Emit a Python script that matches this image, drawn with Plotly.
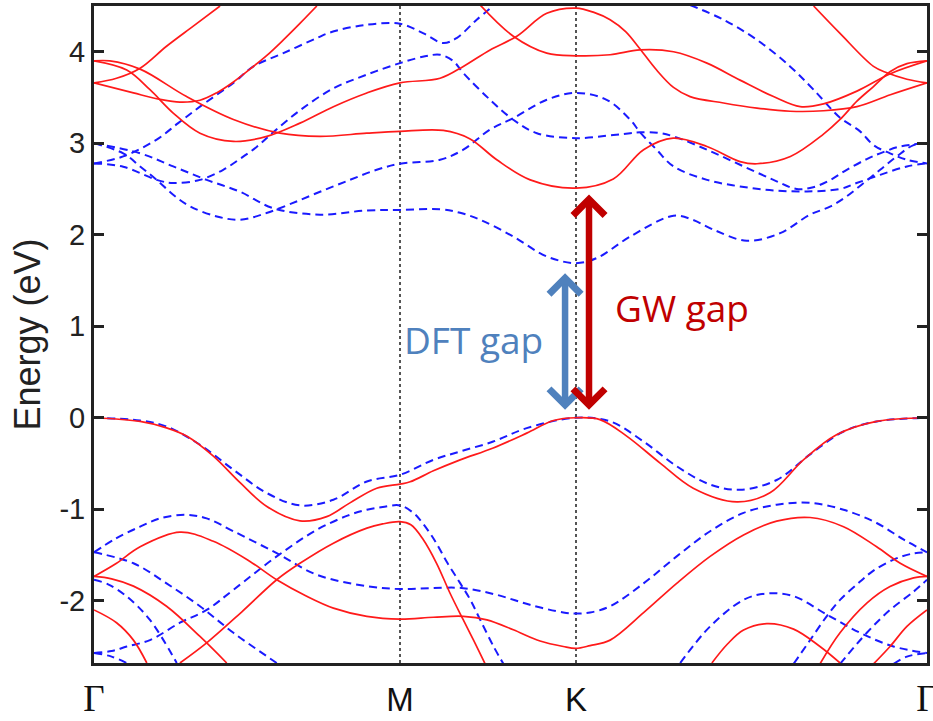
import plotly.graph_objects as go

# ---- k-path (high-symmetry points) and tick labels ----
k_ticks = [0.0, 0.869, 1.369, 2.366]
k_labels = ["Γ", "M", "K", "Γ"]
e_ticks = [-2, -1, 0, 1, 2, 3, 4]
e_labels = ["-2", "-1", "0", "1", "2", "3", "4"]
e_range = [-2.68, 4.50]

# ---- GW bands (red, solid) ----
gw_v1_k = [0, 0.131, 0.206, 0.263, 0.339, 0.415, 0.491, 0.585, 0.661, 0.727, 0.803, 0.869, 0.898, 0.964, 1.040, 1.134, 1.229, 1.305, 1.369, 1.437, 1.513, 1.608, 1.702, 1.826, 1.920, 2.015, 2.109, 2.223, 2.366]
gw_v1_e = [0, -0.04, -0.11, -0.20, -0.42, -0.71, -0.97, -1.126, -1.08, -0.93, -0.77, -0.725, -0.70, -0.58, -0.46, -0.33, -0.168, -0.03, 0, -0.02, -0.20, -0.495, -0.77, -0.92, -0.82, -0.46, -0.186, -0.04, 0]
gw_v2_k = [0, 0.064, 0.131, 0.244, 0.339, 0.443, 0.519, 0.604, 0.680, 0.775, 0.869, 0.964, 1.049, 1.116, 1.191, 1.267, 1.333, 1.369, 1.409, 1.466, 1.561, 1.655, 1.750, 1.845, 1.939, 2.034, 2.129, 2.223, 2.290, 2.366]
gw_v2_e = [-1.734, -1.59, -1.41, -1.25, -1.35, -1.57, -1.77, -1.95, -2.08, -2.17, -2.20, -2.18, -2.17, -2.208, -2.317, -2.44, -2.50, -2.52, -2.49, -2.43, -2.13, -1.81, -1.515, -1.28, -1.13, -1.09, -1.19, -1.41, -1.59, -1.734]
gw_v3_k = [0, 0.05, 0.112, 0.206, 0.301, 0.377]
gw_v3_e = [-1.734, -1.76, -1.84, -2.06, -2.39, -2.68]
gw_v4_k = [0, 0.064, 0.112, 0.150]
gw_v4_e = [-2.10, -2.24, -2.43, -2.68]
gw_v5_k = [0.244, 0.32, 0.42, 0.519, 0.585, 0.68, 0.775, 0.82, 0.869, 0.90, 0.935, 0.973, 1.011, 1.049, 1.078, 1.111]
gw_v5_e = [-2.68, -2.46, -2.12, -1.77, -1.59, -1.37, -1.206, -1.16, -1.135, -1.17, -1.33, -1.59, -1.915, -2.21, -2.43, -2.69]
gw_r1_k = [1.755, 1.80, 1.845, 1.911, 1.987, 2.062, 2.119]
gw_r1_e = [-2.68, -2.47, -2.32, -2.25, -2.31, -2.50, -2.68]
gw_r2_k = [2.062, 2.119, 2.195, 2.261, 2.328, 2.366]
gw_r2_e = [-2.69, -2.35, -2.026, -1.845, -1.75, -1.734]
gw_r3_k = [2.214, 2.261, 2.309, 2.366]
gw_r3_e = [-2.69, -2.50, -2.28, -2.10]
gw_c1_k = [0, 0.045, 0.131, 0.263, 0.396, 0.528, 0.642, 0.775, 0.869, 0.992, 1.067, 1.144, 1.239, 1.369, 1.475, 1.561, 1.645, 1.741, 1.835, 1.883, 1.978, 2.072, 2.119, 2.167, 2.214, 2.262, 2.309, 2.366]
gw_c1_e = [3.90, 3.90, 3.81, 3.51, 3.26, 3.11, 3.075, 3.11, 3.13, 3.14, 3.05, 2.82, 2.60, 2.51, 2.61, 2.93, 3.056, 2.965, 2.80, 2.776, 2.856, 3.10, 3.26, 3.46, 3.62, 3.785, 3.87, 3.90]
gw_c2_k = [0, 0.093, 0.159, 0.225, 0.301, 0.396, 0.491, 0.585, 0.68, 0.775, 0.869, 0.983, 1.049, 1.125, 1.201, 1.286, 1.369, 1.42, 1.466, 1.51, 1.551, 1.598, 1.646, 1.693, 1.788, 1.883, 1.977, 2.072, 2.167, 2.262, 2.366]
gw_c2_e = [3.90, 3.80, 3.585, 3.33, 3.11, 3.02, 3.075, 3.22, 3.40, 3.55, 3.66, 3.71, 3.84, 4.02, 4.17, 4.42, 4.477, 4.43, 4.35, 4.22, 4.03, 3.80, 3.61, 3.51, 3.44, 3.384, 3.35, 3.355, 3.40, 3.53, 3.66]
gw_c3_k = [1.097, 1.191, 1.286, 1.369, 1.466, 1.551, 1.646, 1.741, 1.835, 1.930, 2.006, 2.072, 2.167, 2.262, 2.366]
gw_c3_e = [4.51, 4.17, 3.985, 3.956, 3.967, 4.02, 4.00, 3.876, 3.69, 3.51, 3.40, 3.43, 3.57, 3.76, 3.90]
gw_c4_k = [2.044, 2.119, 2.214, 2.252, 2.309, 2.366]
gw_c4_e = [4.50, 4.20, 3.84, 3.77, 3.70, 3.66]
gw_c5_k = [0, 0.064, 0.131, 0.206, 0.282, 0.358]
gw_c5_e = [3.66, 3.71, 3.82, 4.06, 4.28, 4.50]
gw_c6_k = [0, 0.112, 0.1875, 0.244, 0.301, 0.348, 0.396, 0.443, 0.491, 0.538, 0.585, 0.633]
gw_c6_e = [3.66, 3.55, 3.48, 3.45, 3.47, 3.55, 3.67, 3.81, 3.96, 4.13, 4.31, 4.50]

# ---- DFT bands (blue, dashed) ----
dft_v1_k = [0, 0.131, 0.206, 0.301, 0.396, 0.491, 0.585, 0.680, 0.775, 0.869, 0.964, 1.040, 1.134, 1.229, 1.369, 1.466, 1.561, 1.655, 1.750, 1.835, 1.939, 2.034, 2.129, 2.223, 2.366]
dft_v1_e = [0, -0.03, -0.095, -0.295, -0.568, -0.823, -0.958, -0.896, -0.696, -0.623, -0.46, -0.368, -0.26, -0.113, 0, -0.04, -0.26, -0.53, -0.73, -0.787, -0.68, -0.40, -0.15, -0.04, 0]
dft_v2_k = [0, 0.064, 0.131, 0.1875, 0.259, 0.32, 0.396, 0.519, 0.633, 0.775, 0.869, 0.954, 1.049, 1.144, 1.238, 1.333, 1.369, 1.409, 1.466, 1.561, 1.655, 1.750, 1.845, 1.939, 2.034, 2.129, 2.223, 2.299, 2.366]
dft_v2_e = [-1.47, -1.315, -1.19, -1.10, -1.06, -1.10, -1.24, -1.48, -1.716, -1.84, -1.872, -1.862, -1.862, -1.935, -2.044, -2.128, -2.14, -2.128, -2.06, -1.81, -1.515, -1.24, -1.04, -0.95, -0.93, -1.005, -1.15, -1.33, -1.47]
dft_v3_k = [0, 0.112, 0.206, 0.301, 0.396, 0.519]
dft_v3_e = [-1.47, -1.59, -1.81, -2.06, -2.35, -2.68]
dft_v4_k = [0, 0.04, 0.093, 0.159, 0.235]
dft_v4_e = [-1.77, -1.82, -1.953, -2.21, -2.68]
dft_v5_k = [0, 0.05, 0.093]
dft_v5_e = [-2.57, -2.61, -2.68]
dft_v6_k = [0, 0.05, 0.093, 0.159, 0.244, 0.32, 0.396, 0.519, 0.633, 0.72, 0.775, 0.82, 0.869, 0.907, 0.926, 0.966, 1.004, 1.04, 1.069, 1.097, 1.135, 1.163]
dft_v6_e = [-2.57, -2.55, -2.50, -2.43, -2.24, -2.10, -1.88, -1.515, -1.224, -1.07, -1.005, -0.975, -0.958, -1.04, -1.115, -1.33, -1.588, -1.807, -1.99, -2.208, -2.50, -2.69]
dft_r1_k = [1.665, 1.750, 1.845, 1.911, 1.987, 2.081, 2.176, 2.271, 2.366]
dft_r1_e = [-2.68, -2.28, -1.99, -1.92, -1.95, -2.15, -2.35, -2.50, -2.57]
dft_r2_k = [1.987, 2.034, 2.081, 2.119, 2.176, 2.214, 2.271, 2.318, 2.366]
dft_r2_e = [-2.69, -2.43, -2.17, -1.99, -1.79, -1.67, -1.55, -1.49, -1.47]
dft_r3_k = [2.119, 2.195, 2.261, 2.328, 2.366]
dft_r3_e = [-2.69, -2.35, -2.10, -1.90, -1.77]
dft_r4_k = [2.271, 2.309, 2.366]
dft_r4_e = [-2.69, -2.61, -2.57]
dft_c1_k = [0, 0.083, 0.131, 0.178, 0.225, 0.273, 0.349, 0.415, 0.49, 0.56, 0.642, 0.727, 0.803, 0.869, 0.983, 1.049, 1.125, 1.191, 1.286, 1.369, 1.456, 1.523, 1.551, 1.598, 1.646, 1.741, 1.835, 1.93, 2.025, 2.119, 2.166, 2.233, 2.309, 2.366]
dft_c1_e = [3.00, 2.89, 2.747, 2.60, 2.437, 2.31, 2.20, 2.164, 2.237, 2.34, 2.47, 2.60, 2.71, 2.776, 2.82, 2.93, 3.15, 3.275, 3.475, 3.55, 3.475, 3.257, 3.12, 2.93, 2.747, 2.60, 2.528, 2.485, 2.474, 2.50, 2.565, 2.655, 2.747, 2.78]
dft_c2_k = [0, 0.131, 0.225, 0.32, 0.415, 0.509, 0.642, 0.775, 0.869, 0.983, 1.04, 1.097, 1.191, 1.286, 1.369, 1.428, 1.523, 1.646, 1.70, 1.76, 1.854, 1.949, 2.034, 2.092, 2.138, 2.186, 2.233, 2.28, 2.328, 2.366]
dft_c2_e = [3.00, 2.89, 2.747, 2.60, 2.47, 2.29, 2.22, 2.266, 2.27, 2.28, 2.24, 2.164, 1.98, 1.763, 1.69, 1.745, 1.98, 2.208, 2.164, 2.055, 1.934, 2.018, 2.22, 2.31, 2.42, 2.565, 2.71, 2.856, 2.98, 3.00]
dft_c3_k = [0, 0.083, 0.178, 0.239, 0.301, 0.396, 0.453, 0.538, 0.633, 0.67, 0.765, 0.869, 0.936, 0.992, 1.03, 1.087, 1.134]
dft_c3_e = [2.78, 2.856, 3.04, 3.22, 3.40, 3.66, 3.84, 3.985, 4.15, 4.21, 4.29, 4.306, 4.20, 4.095, 4.15, 4.35, 4.50]
dft_c4_k = [1.693, 1.788, 1.883, 1.977, 2.044, 2.119, 2.176, 2.214, 2.261, 2.309, 2.366]
dft_c4_e = [4.51, 4.35, 4.13, 3.84, 3.585, 3.28, 3.13, 2.98, 2.89, 2.82, 2.78]
dft_c5_k = [0, 0.083, 0.178, 0.225, 0.301, 0.367, 0.415, 0.462, 0.509, 0.585, 0.68, 0.775, 0.869, 0.94, 0.983, 1.02, 1.049, 1.125, 1.191, 1.258, 1.369, 1.475, 1.523, 1.551, 1.60, 1.646, 1.741, 1.835, 1.93, 1.996, 2.043, 2.092, 2.138, 2.195, 2.233, 2.29, 2.366]
dft_c5_e = [2.78, 2.744, 2.60, 2.565, 2.60, 2.71, 2.83, 2.96, 3.12, 3.36, 3.60, 3.75, 3.876, 3.95, 3.967, 3.90, 3.767, 3.475, 3.257, 3.11, 3.056, 3.09, 3.11, 3.12, 3.115, 3.075, 2.93, 2.765, 2.60, 2.50, 2.52, 2.60, 2.71, 2.827, 2.89, 2.965, 3.00]

# ---- gap annotations (energy span of the arrows) ----
gap_dft = [0.07, 1.58]
gap_gw = [0.07, 2.44]

gw_bands = [(gw_v1_k, gw_v1_e), (gw_v2_k, gw_v2_e), (gw_v3_k, gw_v3_e), (gw_v4_k, gw_v4_e),
            (gw_v5_k, gw_v5_e), (gw_r1_k, gw_r1_e), (gw_r2_k, gw_r2_e), (gw_r3_k, gw_r3_e),
            (gw_c1_k, gw_c1_e), (gw_c2_k, gw_c2_e), (gw_c3_k, gw_c3_e), (gw_c4_k, gw_c4_e),
            (gw_c5_k, gw_c5_e), (gw_c6_k, gw_c6_e)]
dft_bands = [(dft_v1_k, dft_v1_e), (dft_v2_k, dft_v2_e), (dft_v3_k, dft_v3_e), (dft_v4_k, dft_v4_e),
             (dft_v5_k, dft_v5_e), (dft_v6_k, dft_v6_e), (dft_r1_k, dft_r1_e), (dft_r2_k, dft_r2_e),
             (dft_r3_k, dft_r3_e), (dft_r4_k, dft_r4_e), (dft_c1_k, dft_c1_e), (dft_c2_k, dft_c2_e),
             (dft_c3_k, dft_c3_e), (dft_c4_k, dft_c4_e), (dft_c5_k, dft_c5_e)]
for kk, ee in gw_bands + dft_bands:
    assert len(kk) == len(ee)

fig = go.Figure()
for kk, ee in dft_bands:
    fig.add_trace(go.Scatter(x=kk, y=ee, mode="lines", showlegend=False, hoverinfo="skip",
                             line=dict(color="#1a1aff", width=2, dash="8px,5px", shape="spline", smoothing=1.0)))
for kk, ee in gw_bands:
    fig.add_trace(go.Scatter(x=kk, y=ee, mode="lines", showlegend=False, hoverinfo="skip",
                             line=dict(color="#ff1a1a", width=1.7, shape="spline", smoothing=1.0)))

blue_c = "#4F81BD"
red_c = "#C00000"
x_dft = 1.338
x_gw = 1.406
fig.add_annotation(x=x_dft, y=gap_dft[1], ax=x_dft, ay=gap_dft[0], xref="x", yref="y", axref="x", ayref="y",
                   text="", showarrow=True, arrowhead=4, startarrowhead=4, arrowside="end+start",
                   arrowwidth=6.5, arrowsize=0.95, startarrowsize=0.95, arrowcolor=blue_c)
fig.add_annotation(x=x_gw, y=gap_gw[1], ax=x_gw, ay=gap_gw[0], xref="x", yref="y", axref="x", ayref="y",
                   text="", showarrow=True, arrowhead=4, startarrowhead=4, arrowside="end+start",
                   arrowwidth=6.5, arrowsize=0.95, startarrowsize=0.95, arrowcolor=red_c)
fig.add_annotation(x=1.077, y=0.85, xref="x", yref="y", text="DFT gap", showarrow=False,
                   font=dict(family="Open Sans", size=37, color=blue_c))
fig.add_annotation(x=1.669, y=1.20, xref="x", yref="y", text="GW gap", showarrow=False,
                   font=dict(family="Open Sans", size=37, color=red_c))

x_text = ['<span style="font-family:Liberation Serif;font-size:37px">%s</span>' % t if t == "Γ" else t
          for t in k_labels]

fig.update_layout(
    width=933, height=721,
    margin=dict(l=94, r=6, t=6, b=58),
    plot_bgcolor="white", paper_bgcolor="white",
    font=dict(family="Liberation Sans, Arial", color="#222222"),
    xaxis=dict(range=[k_ticks[0], k_ticks[-1]], tickvals=k_ticks, ticktext=x_text, automargin=False,
               tickfont=dict(size=33, color="#111111"), ticks="", ticklabelstandoff=5,
               ticklabeloverflow="allow",
               showgrid=True, griddash="dot", gridcolor="#555555", gridwidth=1.5,
               zeroline=False, showline=True, linewidth=3, linecolor="#222222", mirror=True),
    yaxis=dict(range=e_range, tickvals=e_ticks, ticktext=e_labels, automargin=False,
               tickfont=dict(size=29, color="#222222"), ticks="inside", ticklen=10, tickwidth=3,
               tickcolor="#222222", showgrid=False, zeroline=False, showline=True, linewidth=3,
               linecolor="#222222", mirror="ticks",
               title=dict(text="Energy (eV)", font=dict(size=36, color="#222222"), standoff=8)),
)

fig.write_html("out.html", config={"displayModeBar": False},
               post_script="document.body.style.margin='0px';")
